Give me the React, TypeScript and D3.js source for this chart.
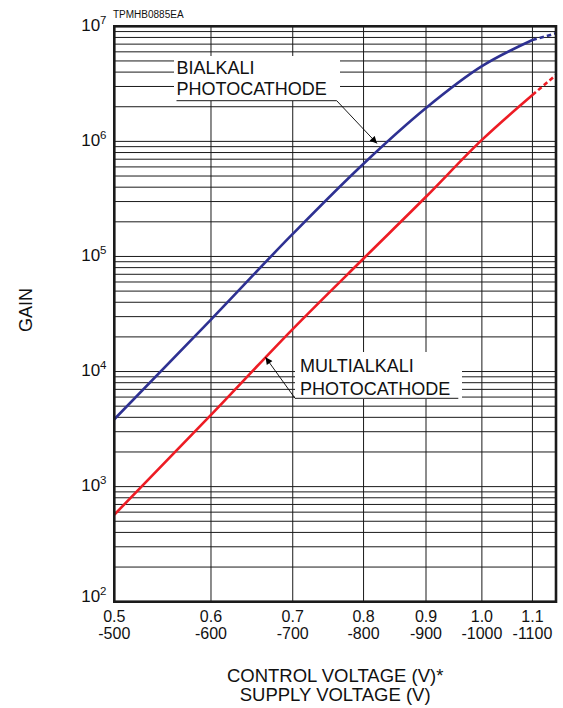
import React from "react";
import * as d3 from "d3";

// ---- data ----
const CONTROL_TICKS = [0.5, 0.6, 0.7, 0.8, 0.9, 1.0, 1.1];
const CONTROL_LABELS = ["0.5", "0.6", "0.7", "0.8", "0.9", "1.0", "1.1"];
const SUPPLY_LABELS = ["-500", "-600", "-700", "-800", "-900", "-1000", "-1100"];
const GAIN_DECADES = [2, 3, 4, 5, 6, 7];

const VOLTAGE = [0.5, 0.6, 0.7, 0.8, 0.9, 1.0, 1.1, 1.15];
const BIALKALI = [3.85e3, 2.83e4, 1.57e5, 6.4e5, 1.95e6, 4.5e6, 7.6e6, 8.7e6];
const MULTIALKALI = [5.7e2, 4.2e3, 2.34e4, 9.6e4, 3.3e5, 1.03e6, 2.53e6, 3.78e6];
const SOLID_LIMIT = 1.1;

const W = 563;
const H = 708;
const M = { left: 114.3, right: 556, top: 26.3, bottom: 601.7 };
const FONT = "'Liberation Sans', Arial, Helvetica, sans-serif";
const BLUE = "#2e3192";
const RED = "#ed1c24";

export default function App() {
  const x = d3.scaleLog().domain([0.5, 1.15]).range([M.left, M.right]);
  const y = d3.scaleLog().domain([1e2, 1e7]).range([M.bottom, M.top]);

  const minor: number[] = [];
  for (let e = 2; e < 7; e++) for (let k = 1; k <= 9; k++) minor.push(k * Math.pow(10, e));
  minor.push(1e7);

  const line = d3
    .line<[number, number]>()
    .x((d) => x(d[0]))
    .y((d) => y(d[1]))
    .curve(d3.curveMonotoneX);

  const series = [
    { values: BIALKALI, color: BLUE },
    { values: MULTIALKALI, color: RED },
  ];

  const solidPts = (vals: number[]) =>
    VOLTAGE.map((v, i) => [v, vals[i]] as [number, number]).filter((d) => d[0] <= SOLID_LIMIT);
  const dashPts = (vals: number[]) =>
    VOLTAGE.map((v, i) => [v, vals[i]] as [number, number]).filter((d) => d[0] >= SOLID_LIMIT);

  // annotation arrow tips (data coordinates)
  const biTip: [number, number] = [x(0.8205), y(9.6e5)];
  const muTip: [number, number] = [x(0.665), y(1.33e4)];

  return (
    <svg
      width={W}
      height={H}
      style={{ position: "absolute", left: 0, top: 0, display: "block", background: "#fff" }}
      fontFamily={FONT}
    >
      <defs>
        <marker id="arr" viewBox="0 0 10 10" refX="10" refY="5" markerWidth="9" markerHeight="7" orient="auto" markerUnits="userSpaceOnUse">
          <path d="M0,0 L10,5 L0,10 z" fill="#000" />
        </marker>
      </defs>
      <rect x={0} y={0} width={W} height={H} fill="#fff" />

      {/* horizontal grid */}
      {minor.map((g, i) => (
        <line key={"h" + i} x1={M.left} x2={M.right} y1={y(g)} y2={y(g)} stroke="#1a1a1a" strokeWidth={1} />
      ))}
      {/* vertical grid */}
      {CONTROL_TICKS.slice(1).map((v, i) => (
        <line key={"v" + i} x1={x(v)} x2={x(v)} y1={M.top} y2={M.bottom} stroke="#1a1a1a" strokeWidth={1} />
      ))}

      {/* annotation boxes (white background) */}
      <rect x={174} y={56} width={166} height={45} fill="#fff" />
      <rect x={295} y={352} width={167} height={47} fill="#fff" />

      {/* curves */}
      {series.map((s, i) => (
        <g key={"s" + i}>
          <path d={line(solidPts(s.values)) || ""} fill="none" stroke={s.color} strokeWidth={2.6} />
          <path d={line(dashPts(s.values)) || ""} fill="none" stroke={s.color} strokeWidth={2.6} strokeDasharray="4.5,3" />
        </g>
      ))}

      {/* frame */}
      <rect x={M.left} y={M.top} width={M.right - M.left} height={M.bottom - M.top} fill="none" stroke="#1a1a1a" strokeWidth={2.6} />

      {/* annotations */}
      <g fontSize={18} fill="#111">
        <text x={176.5} y={73.5}>BIALKALI</text>
        <text x={176.5} y={95}>PHOTOCATHODE</text>
        <line x1={176.5} x2={336.7} y1={100.7} y2={100.7} stroke="#000" strokeWidth={0.9} />
        <line x1={336.7} y1={100.7} x2={biTip[0]} y2={biTip[1]} stroke="#000" strokeWidth={0.9} markerEnd="url(#arr)" />

        <text x={300} y={371.7}>MULTIALKALI</text>
        <text x={300} y={395}>PHOTOCATHODE</text>
        <line x1={295} x2={458.3} y1={398.3} y2={398.3} stroke="#000" strokeWidth={0.9} />
        <line x1={295} y1={398.3} x2={muTip[0]} y2={muTip[1]} stroke="#000" strokeWidth={0.9} markerEnd="url(#arr)" />
      </g>

      {/* y tick labels */}
      {GAIN_DECADES.map((e) => (
        <text key={"yl" + e} x={106.5} y={y(Math.pow(10, e)) + (e === 2 ? 0 : 4.5)} textAnchor="end" fontSize={17} fill="#111">
          10
          <tspan fontSize={11.5} dy={-7}>{e}</tspan>
        </text>
      ))}

      {/* x tick labels */}
      {CONTROL_TICKS.map((v, i) => (
        <g key={"xl" + i} fontSize={16} fill="#111" textAnchor="middle">
          <text x={x(v)} y={621.5}>{CONTROL_LABELS[i]}</text>
          <text x={x(v)} y={638.5}>{SUPPLY_LABELS[i]}</text>
        </g>
      ))}

      {/* code */}
      <text x={113} y={18.3} fontSize={10} fill="#111">TPMHB0885EA</text>

      {/* axis titles */}
      <text x={(M.left + M.right) / 2} y={682} textAnchor="middle" fontSize={18.5} fill="#111">
        CONTROL VOLTAGE (V)*
      </text>
      <text x={(M.left + M.right) / 2} y={701} textAnchor="middle" fontSize={18.5} fill="#111">
        SUPPLY VOLTAGE (V)
      </text>
      <text transform={`translate(32,310) rotate(-90)`} textAnchor="middle" fontSize={18} fill="#111">
        GAIN
      </text>
    </svg>
  );
}
